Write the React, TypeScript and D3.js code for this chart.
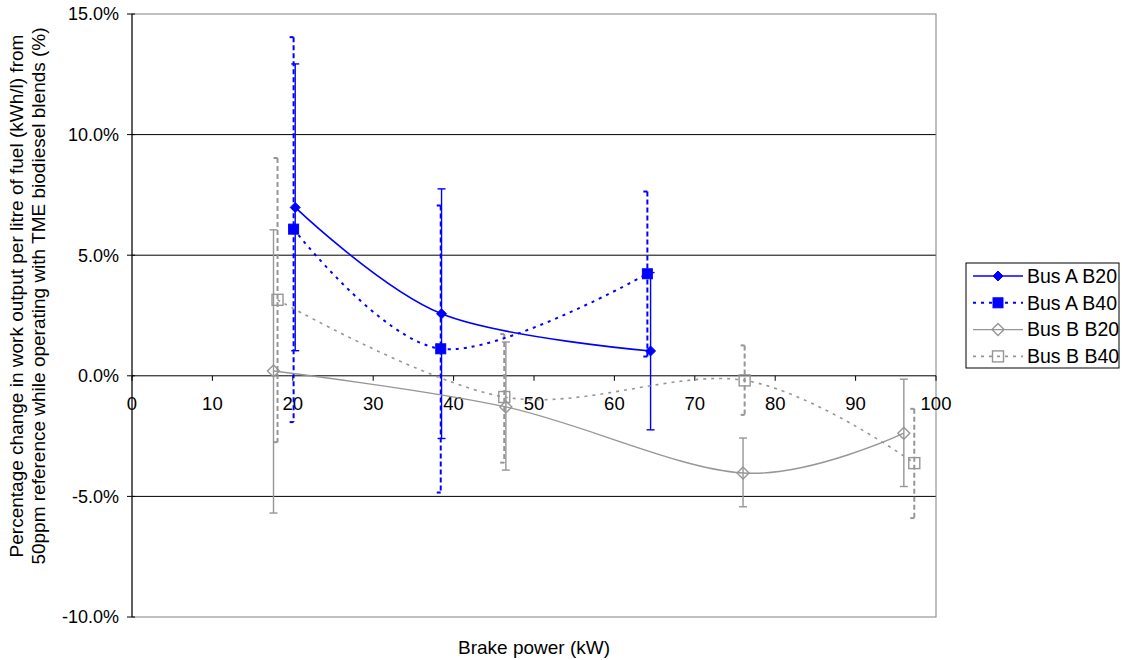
import React from 'react';
import * as d3 from 'd3';

// brake power (kW), value (%), error bar top / bottom (%)
const busAB20_x = [20.3, 38.5, 64.5];
const busAB20_y = [6.98, 2.57, 1.03];
const busAB20_hi = [12.93, 7.75, 4.28];
const busAB20_lo = [1.04, -2.6, -2.24];

const busAB40_x = [20.1, 38.4, 64.1];
const busAB40_y = [6.08, 1.12, 4.23];
const busAB40_hi = [14.04, 7.06, 7.64];
const busAB40_lo = [-1.92, -4.84, 0.8];

const busBB20_x = [17.6, 46.5, 76.0, 96.0];
const busBB20_y = [0.2, -1.29, -4.03, -2.38];
const busBB20_hi = [6.05, 1.4, -2.58, -0.14];
const busBB20_lo = [-5.69, -3.91, -5.43, -4.59];

const busBB40_x = [18.1, 46.3, 76.2, 97.3];
const busBB40_y = [3.15, -0.88, -0.19, -3.62];
const busBB40_hi = [9.03, 1.73, 1.26, -1.37];
const busBB40_lo = [-2.75, -3.6, -1.62, -5.9];

const xTicks = [0, 10, 20, 30, 40, 50, 60, 70, 80, 90, 100];
const yTicks = [-10, -5, 0, 5, 10, 15];

const BLUE = '#0000ff';
const GREY = '#969696';
const FONT = '"Liberation Sans", Arial, sans-serif';

const series = [
  { name: 'Bus A B20', x: busAB20_x, y: busAB20_y, hi: busAB20_hi, lo: busAB20_lo, color: BLUE, dash: null, width: 1.6, marker: 'diamond', filled: true },
  { name: 'Bus A B40', x: busAB40_x, y: busAB40_y, hi: busAB40_hi, lo: busAB40_lo, color: BLUE, dash: '3,5', width: 2, marker: 'square', filled: true },
  { name: 'Bus B B20', x: busBB20_x, y: busBB20_y, hi: busBB20_hi, lo: busBB20_lo, color: GREY, dash: null, width: 1.4, marker: 'diamond', filled: false },
  { name: 'Bus B B40', x: busBB40_x, y: busBB40_y, hi: busBB40_hi, lo: busBB40_lo, color: GREY, dash: '3,5', width: 1.6, marker: 'square', filled: false },
];

function Marker(props: any) {
  const { kind, cx, cy, color, filled } = props;
  const fill = filled ? color : 'none';
  const sw = filled ? 1 : 1.4;
  if (kind === 'diamond') {
    const r = filled ? 5 : 6;
    return <path d={`M${cx},${cy - r}L${cx + r},${cy}L${cx},${cy + r}L${cx - r},${cy}Z`} fill={fill} stroke={color} strokeWidth={sw} />;
  }
  const s = filled ? 10 : 11;
  return <rect x={cx - s / 2} y={cy - s / 2} width={s} height={s} fill={fill} stroke={color} strokeWidth={sw} />;
}

export default function App() {
  const x = d3.scaleLinear().domain([0, 100]).range([132, 936]);
  const y = d3.scaleLinear().domain([-10, 15]).range([617, 14]);

  const line = d3.line<[number, number]>()
    .x(d => x(d[0]))
    .y(d => y(d[1]))
    .curve(d3.curveCardinal.tension(0));

  const errDash = '5,3';

  return (
    <svg width={1122} height={660} style={{ position: 'absolute', left: 0, top: 0, background: '#fff' }} fontFamily={FONT}>
      {/* grid lines */}
      {yTicks.filter(t => t !== -10 && t !== 15 && t !== 0).map(t => (
        <line key={t} x1={x(0)} x2={x(100)} y1={y(t)} y2={y(t)} stroke="#000" strokeWidth={1} />
      ))}
      {/* plot border */}
      <rect x={x(0)} y={y(15)} width={x(100) - x(0)} height={y(-10) - y(15)} fill="none" stroke="#808080" strokeWidth={1} />

      {/* y axis */}
      <line x1={x(0)} x2={x(0)} y1={y(15)} y2={y(-10)} stroke="#000" strokeWidth={1} />
      {yTicks.map(t => (
        <g key={t}>
          <line x1={x(0) - 5} x2={x(0) + 3} y1={y(t)} y2={y(t)} stroke="#000" />
          <text x={x(0) - 13} y={y(t)} dy="0.35em" textAnchor="end" fontSize={18}>{t.toFixed(1) + '%'}</text>
        </g>
      ))}

      {/* x axis at 0% */}
      <line x1={x(0)} x2={x(100)} y1={y(0)} y2={y(0)} stroke="#000" strokeWidth={1} />
      {xTicks.map(t => (
        <g key={t}>
          <line x1={x(t)} x2={x(t)} y1={y(0)} y2={y(0) + 5} stroke="#000" />
          <text x={x(t)} y={y(0) + 34} textAnchor="middle" fontSize={18.5}>{t}</text>
        </g>
      ))}

      {/* error bars */}
      {series.map(s => (
        <g key={s.name + 'err'}>
          {s.x.map((xv, i) => (
            <g key={i}>
              <line x1={x(xv)} x2={x(xv)} y1={y(s.hi[i])} y2={y(s.lo[i])} stroke={s.color}
                strokeWidth={s.dash ? 2 : 1.4} strokeDasharray={s.dash ? errDash : undefined} />
              <line x1={x(xv) - 4} x2={x(xv) + 4} y1={y(s.hi[i])} y2={y(s.hi[i])} stroke={s.color}
                strokeWidth={s.dash ? 2 : 1.4} strokeDasharray={s.dash ? '4,4' : undefined} />
              <line x1={x(xv) - 4} x2={x(xv) + 4} y1={y(s.lo[i])} y2={y(s.lo[i])} stroke={s.color}
                strokeWidth={s.dash ? 2 : 1.4} strokeDasharray={s.dash ? '4,4' : undefined} />
            </g>
          ))}
        </g>
      ))}

      {/* series lines */}
      {series.map(s => (
        <path key={s.name} d={line(s.x.map((xv, i) => [xv, s.y[i]] as [number, number])) || ''}
          fill="none" stroke={s.color} strokeWidth={s.width} strokeDasharray={s.dash || undefined} />
      ))}

      {/* markers */}
      {series.map(s => (
        <g key={s.name + 'm'}>
          {s.x.map((xv, i) => (
            <Marker key={i} kind={s.marker} cx={x(xv)} cy={y(s.y[i])} color={s.color} filled={s.filled} />
          ))}
        </g>
      ))}

      {/* legend */}
      <rect x={966} y={263} width={153} height={105} fill="#fff" stroke="#000" strokeWidth={1} />
      {series.map((s, i) => {
        const ly = 276 + i * 26.8;
        return (
          <g key={s.name + 'leg'}>
            <line x1={973} x2={1023} y1={ly} y2={ly} stroke={s.color} strokeWidth={s.width} strokeDasharray={s.dash || undefined} />
            <Marker kind={s.marker} cx={998} cy={ly} color={s.color} filled={s.filled} />
            <text x={1027} y={ly} dy="0.35em" fontSize={19.5}>{s.name}</text>
          </g>
        );
      })}

      {/* axis titles */}
      <text x={534} y={654} textAnchor="middle" fontSize={19}>Brake power (kW)</text>
      <text transform="translate(23,296) rotate(-90)" textAnchor="middle" fontSize={19}>
        <tspan x={0} dy={0}>Percentage change in work output per litre of fuel (kWh/l) from</tspan>
        <tspan x={0} dy={22}>50ppm reference while operating with TME biodiesel blends (%)</tspan>
      </text>
    </svg>
  );
}
